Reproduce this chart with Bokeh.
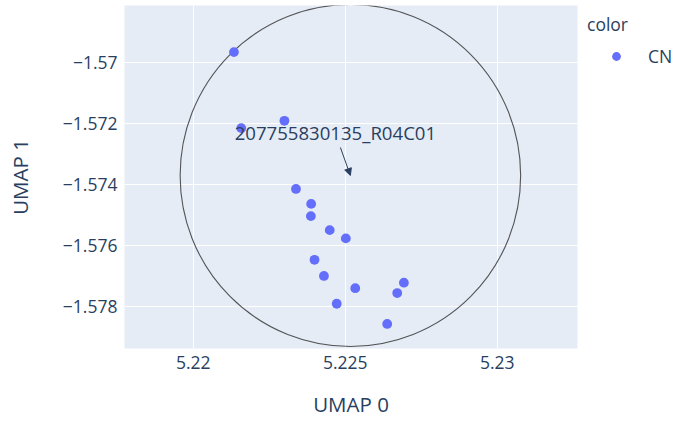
from bokeh.plotting import figure
from bokeh.models import (ColumnDataSource, FixedTicker, Legend, LegendItem, Label,
                          Arrow, NormalHead)
from bokeh.embed import file_html
from bokeh.resources import INLINE

# ---- data ----
umap0 = [5.22134, 5.22158, 5.22300, 5.22338, 5.22388, 5.22387, 5.22449, 5.22502,
         5.22399, 5.22430, 5.22533, 5.22472, 5.22693, 5.22671, 5.22638]
umap1 = [-1.56967, -1.57216, -1.57192, -1.57415, -1.57464, -1.57504, -1.57550, -1.57577,
         -1.57647, -1.57700, -1.57740, -1.57791, -1.57722, -1.57756, -1.57857]
group = "CN"

ann_x = 5.22517
ann_y = -1.57371
ann_text = "207755830135_R04C01"
circle_r = 0.0056

x_ticks = [5.22, 5.225, 5.23]
x_tick_labels = ["5.22", "5.225", "5.23"]
y_ticks = [-1.57, -1.572, -1.574, -1.576, -1.578]
y_tick_labels = ["\u22121.57", "\u22121.572", "\u22121.574", "\u22121.576", "\u22121.578"]

x_range = (5.21774, 5.23264)
y_range = (-1.579375, -1.568144)

FONT = "Open Sans"
TXT = "#2a3f5f"
FW, FH = 453, 343

p = figure(frame_width=FW, frame_height=FH, x_range=x_range, y_range=y_range,
           output_backend="svg", toolbar_location=None,
           min_border_left=124, min_border_right=98, min_border_top=5, min_border_bottom=73,
           background_fill_color="#E5ECF6", border_fill_color="white")
p.outline_line_color = None

for ax in (p.xaxis, p.yaxis):
    ax.axis_line_color = None
    ax.major_tick_line_color = None
    ax.minor_tick_line_color = None
    ax.major_label_text_font = FONT
    ax.major_label_text_font_size = "17.5px"
    ax.major_label_text_color = TXT
    ax.axis_label_text_font = FONT
    ax.axis_label_text_font_size = "20.5px"
    ax.axis_label_text_color = TXT
    ax.axis_label_text_font_style = "normal"

p.xaxis.ticker = FixedTicker(ticks=x_ticks)
p.xaxis.major_label_overrides = dict(zip(x_ticks, x_tick_labels))
p.yaxis.ticker = FixedTicker(ticks=y_ticks)
p.yaxis.major_label_overrides = dict(zip(y_ticks, y_tick_labels))
p.xaxis.axis_label = "UMAP 0"
p.yaxis.axis_label = "UMAP 1"
p.xaxis.major_label_standoff = 1
p.yaxis.major_label_standoff = 1
p.xaxis.axis_label_standoff = 18
p.yaxis.axis_label_standoff = 26

p.xgrid.grid_line_color = "white"
p.ygrid.grid_line_color = "white"
p.xgrid.grid_line_width = 1
p.ygrid.grid_line_width = 1

# circle shape around annotated sample
p.ellipse(x=[ann_x], y=[ann_y], width=[2 * circle_r], height=[2 * circle_r],
          fill_color=None, line_color="#444444", line_alpha=0.9, line_width=1.1)

src = ColumnDataSource(dict(x=umap0, y=umap1))
r = p.scatter("x", "y", source=src, size=9.8, fill_color="#636efa", line_color=None)

# annotation (text offset in screen px, converted to data units for the arrow tail)
xs = FW / (x_range[1] - x_range[0])
ys = FH / (y_range[1] - y_range[0])
tail_dx, tail_dy = -10, 28
p.add_layout(Arrow(end=NormalHead(size=7, fill_color=TXT, line_color=TXT, line_width=1),
                   x_start=ann_x + tail_dx / xs, y_start=ann_y + tail_dy / ys,
                   x_end=ann_x, y_end=ann_y, line_color=TXT, line_width=1))
p.add_layout(Label(x=ann_x, y=ann_y, x_offset=-15, y_offset=43, text=ann_text,
                   text_font=FONT, text_font_size="18.6px", text_color=TXT,
                   text_align="center", text_baseline="middle"))

legend = Legend(items=[LegendItem(label=group, renderers=[r])], title="color",
                location=(10, 280), margin=0, padding=0,
                glyph_width=58, glyph_height=22, label_standoff=3,
                title_standoff=8, border_line_color=None, background_fill_alpha=0,
                label_text_font=FONT, label_text_font_size="17.5px", label_text_color=TXT,
                title_text_font=FONT, title_text_font_size="17.5px", title_text_color=TXT,
                title_text_font_style="normal")
p.add_layout(legend, "right")

open("out.html", "w").write(file_html(p, INLINE))
